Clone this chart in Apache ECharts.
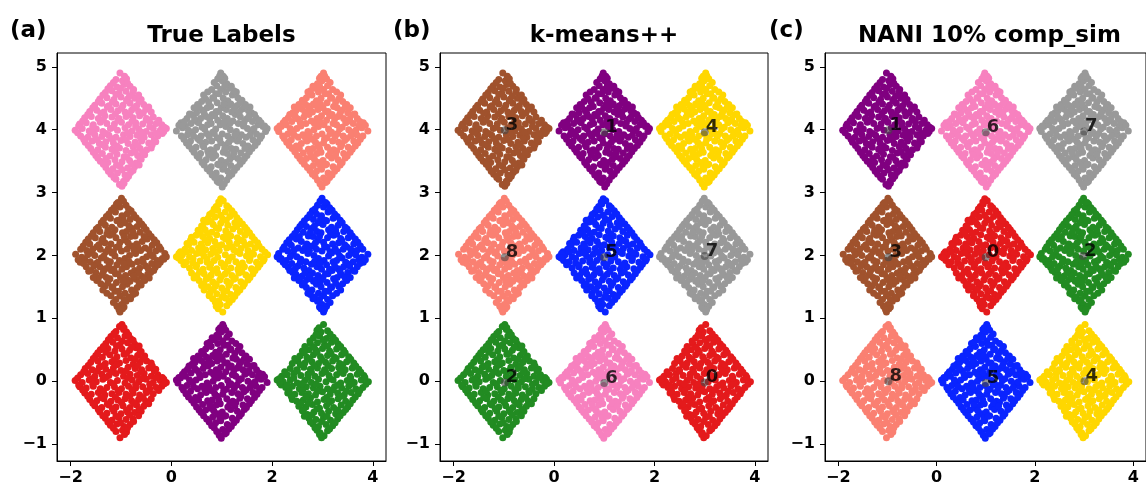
<!DOCTYPE html>
<html>
<head>
<meta charset="utf-8">
<script src="https://cdn.jsdelivr.net/npm/echarts@6/dist/echarts.min.js"></script>
<style>
html, body { margin: 0; padding: 0; background: #fff; }
#main { width: 1146px; height: 487px; }
</style>
</head>
<body>
<div id="main"></div>
<script>
// cluster centres (same points in all three panels)
const clusterCenters = [[-1, 0], [1, 0], [3, 0], [-1, 2], [1, 2], [3, 2], [-1, 4], [1, 4], [3, 4]];
// orientation of the shared offset cloud per cluster (bit0 flip x, bit1 flip y, bit2 swap)
const clusterSym = [0, 5, 3, 6, 1, 7, 2, 4, 5];

// points inside one diamond, relative to its centre
const pointOffsets = [
  [0.02, 0.9], [-0.03, 0.87], [-0.1, 0.79], [0.05, 0.82], [0.11, 0.78],
  [-0.2, 0.71], [-0.07, 0.69], [0.08, 0.72], [0.19, 0.68],
  [-0.3, 0.6], [-0.16, 0.62], [-0.02, 0.58], [0.13, 0.61], [0.27, 0.59],
  [-0.41, 0.5], [-0.26, 0.52], [-0.12, 0.48], [0.02, 0.51], [0.17, 0.49], [0.3, 0.53], [0.4, 0.47],
  [-0.5, 0.41], [-0.37, 0.38], [-0.22, 0.42], [-0.08, 0.39], [0.06, 0.43], [0.2, 0.37], [0.33, 0.41], [0.47, 0.4],
  [-0.6, 0.3], [-0.46, 0.32], [-0.31, 0.28], [-0.18, 0.31], [-0.03, 0.29], [0.1, 0.33], [0.24, 0.27], [0.38, 0.3], [0.51, 0.32], [0.6, 0.29],
  [-0.71, 0.2], [-0.57, 0.18], [-0.43, 0.22], [-0.3, 0.19], [-0.15, 0.21], [0, 0.17], [0.14, 0.22], [0.28, 0.2], [0.41, 0.18], [0.55, 0.21], [0.69, 0.19],
  [-0.8, 0.1], [-0.66, 0.12], [-0.52, 0.08], [-0.38, 0.11], [-0.24, 0.09], [-0.1, 0.12], [0.05, 0.08], [0.18, 0.11], [0.32, 0.09], [0.46, 0.12], [0.6, 0.08], [0.73, 0.1], [0.82, 0.06],
  [-0.91, 0.01], [-0.77, -0.02], [-0.63, 0.02], [-0.49, -0.01], [-0.36, 0.03], [-0.21, -0.02], [-0.07, 0.01], [0.08, -0.03], [0.22, 0.02], [0.35, -0.01], [0.5, 0.03], [0.64, -0.02], [0.78, 0.01], [0.9, -0.02],
  [-0.82, -0.09], [-0.69, -0.11], [-0.55, -0.08], [-0.41, -0.12], [-0.28, -0.1], [-0.13, -0.09], [0.01, -0.12], [0.15, -0.08], [0.29, -0.11], [0.43, -0.09], [0.57, -0.12], [0.7, -0.1], [0.81, -0.08],
  [-0.72, -0.19], [-0.59, -0.21], [-0.45, -0.18], [-0.32, -0.22], [-0.18, -0.2], [-0.04, -0.18], [0.1, -0.21], [0.24, -0.19], [0.37, -0.22], [0.51, -0.18], [0.64, -0.2],
  [-0.62, -0.29], [-0.48, -0.31], [-0.34, -0.28], [-0.2, -0.32], [-0.06, -0.3], [0.08, -0.28], [0.21, -0.31], [0.35, -0.29], [0.49, -0.32], [0.6, -0.28],
  [-0.52, -0.39], [-0.38, -0.42], [-0.24, -0.38], [-0.1, -0.41], [0.04, -0.39], [0.18, -0.42], [0.31, -0.38], [0.45, -0.4],
  [-0.42, -0.49], [-0.28, -0.51], [-0.14, -0.48], [0, -0.52], [0.13, -0.49], [0.27, -0.5], [0.4, -0.48],
  [-0.31, -0.59], [-0.18, -0.62], [-0.04, -0.58], [0.1, -0.61], [0.24, -0.6],
  [-0.21, -0.7], [-0.08, -0.68], [0.06, -0.72], [0.18, -0.69],
  [-0.1, -0.8], [0.03, -0.78], [0.11, -0.81], [-0.02, -0.9],
  [0.06, 0.85], [-0.14, 0.76], [0.15, 0.74], [-0.25, 0.66], [0.02, 0.64], [0.24, 0.65],
  [-0.35, 0.55], [-0.09, 0.56], [0.21, 0.54], [0.36, 0.56],
  [-0.46, 0.45], [-0.3, 0.46], [0.11, 0.44], [0.38, 0.46],
  [-0.55, 0.36], [-0.13, 0.34], [0.28, 0.35], [0.43, 0.36],
  [-0.65, 0.25], [-0.37, 0.24], [-0.08, 0.26], [0.33, 0.25], [0.62, 0.24],
  [-0.74, 0.15], [-0.47, 0.16], [-0.2, 0.14], [0.1, 0.16], [0.39, 0.14], [0.66, 0.16],
  [-0.86, 0.05], [-0.58, 0.04], [-0.3, 0.06], [0.13, 0.05], [0.41, 0.04], [0.7, 0.06], [0.85, 0.03],
  [-0.84, -0.06], [-0.56, -0.05], [-0.15, -0.04], [0.29, -0.06], [0.57, -0.05], [0.86, -0.04],
  [-0.76, -0.14], [-0.35, -0.16], [-0.06, -0.15], [0.22, -0.14], [0.5, -0.16], [0.75, -0.15],
  [-0.66, -0.24], [-0.4, -0.26], [-0.11, -0.25], [0.17, -0.24], [0.44, -0.26],
  [-0.56, -0.35], [-0.27, -0.36], [0.01, -0.34], [0.26, -0.35], [0.55, -0.36],
  [-0.45, -0.45], [-0.17, -0.44], [0.11, -0.46], [0.36, -0.45],
  [-0.36, -0.55], [-0.1, -0.56], [0.17, -0.54], [0.35, -0.55],
  [-0.26, -0.65], [-0.01, -0.66], [0.25, -0.64],
  [-0.15, -0.75], [0.13, -0.74], [0.07, -0.85]
];

// colour for each cluster label 0..8
const labelColors = ['#e41a1c', '#800080', '#228b22', '#a0522d', '#ffd700', '#0a24ff', '#f781bf', '#999999', '#fa8072'];

// label of each cluster (in clusterCenters order) per panel
const trueLabels = [0, 1, 2, 3, 4, 5, 6, 7, 8];
const kmeansLabels = [2, 6, 0, 8, 5, 7, 3, 1, 4];
const naniLabels = [8, 5, 4, 3, 0, 2, 1, 6, 7];

// centroids (same order)
const kmeansCentroids = [[-0.98, -0.02], [1.0, -0.03], [3.0, -0.02], [-0.98, 1.97], [1.0, 1.97], [3.0, 1.99], [-0.98, 3.99], [1.0, 3.96], [3.0, 3.96]];
const naniCentroids = [[-0.98, 0.0], [1.0, -0.03], [3.01, 0.0], [-0.98, 1.97], [1.0, 1.97], [2.98, 1.99], [-0.98, 3.99], [1.0, 3.96], [3.0, 3.97]];

const panelTitles = ['True Labels', 'k-means++', 'NANI 10% comp_sim'];
const panelTags = ['(a)', '(b)', '(c)'];
const xTicks = [-2, 0, 2, 4];
const yTicks = [-1, 0, 1, 2, 3, 4, 5];

const panelLabels = [trueLabels, kmeansLabels, naniLabels];
const panelCentroids = [null, kmeansCentroids, naniCentroids];
const grids = [
  { left: 57, top: 53, width: 329, height: 408 },
  { left: 440, top: 53, width: 328, height: 408 },
  { left: 825, top: 53, width: 329, height: 408 }
];

const fmt = v => String(v).replace('-', '\u2212');

const clusterPoints = clusterCenters.map((c, i) => {
  const s = clusterSym[i];
  return pointOffsets.map(([dx, dy]) => {
    let a = dx, b = dy;
    if (s & 4) { const t = a; a = b; b = t; }
    if (s & 1) a = -a;
    if (s & 2) b = -b;
    return [c[0] + a, c[1] + b];
  });
});

const makeXAxis = i => ({
  gridIndex: i, type: 'value', min: -2.27, max: 4.26,
  axisLine: { show: true, onZero: false, lineStyle: { color: '#000', width: 1 } },
  axisTick: { show: true, length: 5, customValues: xTicks, lineStyle: { color: '#000' } },
  axisLabel: { customValues: xTicks, formatter: fmt, color: '#000', fontWeight: 'bold', fontSize: 16, fontFamily: 'DejaVu Sans', margin: 9 },
  splitLine: { show: false }
});
const makeYAxis = i => ({
  gridIndex: i, type: 'value', min: -1.27, max: 5.22,
  axisLine: { show: true, onZero: false, lineStyle: { color: '#000', width: 1 } },
  axisTick: { show: true, length: 5, customValues: yTicks, lineStyle: { color: '#000' } },
  axisLabel: { customValues: yTicks, formatter: fmt, color: '#000', fontWeight: 'bold', fontSize: 16, fontFamily: 'DejaVu Sans', margin: 10 },
  splitLine: { show: false }
});

const series = [];
panelLabels.forEach((labels, p) => {
  clusterPoints.forEach((pts, c) => {
    series.push({
      type: 'scatter', xAxisIndex: p, yAxisIndex: p, silent: true,
      symbolSize: 7, itemStyle: { color: labelColors[labels[c]], opacity: 1 },
      data: pts, z: 2
    });
  });
  if (panelCentroids[p]) {
    series.push({
      type: 'scatter', xAxisIndex: p, yAxisIndex: p, silent: true,
      symbolSize: 8, itemStyle: { color: 'rgba(70,70,70,0.75)' }, z: 5,
      data: panelCentroids[p].map((pt, c) => [pt[0], pt[1], labels[c]]),
      label: {
        show: true, position: 'inside', align: 'left', verticalAlign: 'bottom', offset: [1, 4],
        formatter: d => String(d.value[2]),
        color: '#000', fontWeight: 'bold', fontSize: 18, fontFamily: 'DejaVu Sans'
      }
    });
  }
});

const graphics = [];
grids.forEach((g, i) => {
  graphics.push({
    type: 'text', x: g.left + g.width / 2, y: 36,
    style: { text: panelTitles[i], textAlign: 'center', textVerticalAlign: 'middle', font: 'bold 23px "DejaVu Sans"', fill: '#000' }
  });
});
[10, 393, 769].forEach((x, i) => {
  graphics.push({
    type: 'text', x: x, y: 31,
    style: { text: panelTags[i], textAlign: 'left', textVerticalAlign: 'middle', font: 'bold 23px "DejaVu Sans"', fill: '#000' }
  });
});

const chart = echarts.init(document.getElementById('main'));
chart.setOption({
  animation: false,
  backgroundColor: '#fff',
  grid: grids.map(g => Object.assign({ show: true, borderColor: '#000', borderWidth: 1, backgroundColor: 'transparent' }, g)),
  xAxis: [0, 1, 2].map(makeXAxis),
  yAxis: [0, 1, 2].map(makeYAxis),
  graphic: graphics,
  series: series
});
</script>
</body>
</html>
